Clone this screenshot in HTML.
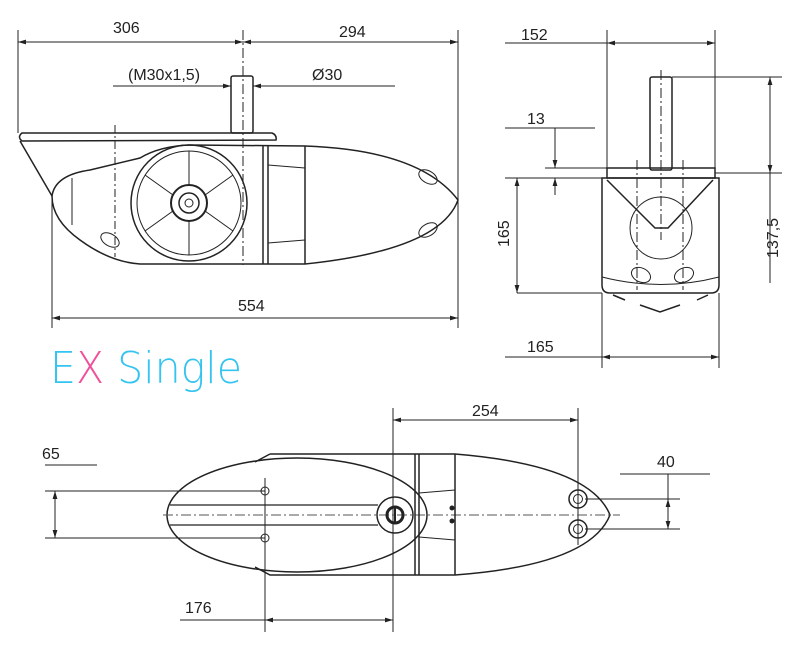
<!DOCTYPE html>
<html><head><meta charset="utf-8"><style>
html,body{margin:0;padding:0;background:#fff;width:800px;height:645px;overflow:hidden}
svg{display:block}
text{font-family:"Liberation Sans",sans-serif;font-size:16px;fill:#222}
</style></head><body>
<svg width="800" height="645" viewBox="0 0 800 645" xmlns="http://www.w3.org/2000/svg">
<defs>
<marker id="a" viewBox="0 0 10 10" refX="10" refY="5" markerWidth="8" markerHeight="8" orient="auto-start-reverse"><path d="M0,2 L10,5 L0,8 z" fill="#222"/></marker>
</defs>
<g stroke="#222" stroke-width="1" fill="none">
<line x1="18" y1="30" x2="18" y2="133"/>
<line x1="458" y1="30" x2="458" y2="328"/>
<line x1="18" y1="42" x2="243" y2="42" marker-start="url(#a)" marker-end="url(#a)"/>
<line x1="243" y1="42" x2="458" y2="42" marker-start="url(#a)" marker-end="url(#a)"/>
<line x1="243" y1="30" x2="243" y2="265" stroke-dasharray="10,3,2,3"/>
<line x1="113" y1="86" x2="221" y2="86"/>
<line x1="221" y1="86" x2="231" y2="86" marker-end="url(#a)"/>
<line x1="263" y1="86" x2="253" y2="86" marker-end="url(#a)"/>
<line x1="263" y1="86" x2="395" y2="86"/>
<line x1="52" y1="196" x2="52" y2="328"/>
<line x1="52" y1="318" x2="458" y2="318" marker-start="url(#a)" marker-end="url(#a)"/>
<rect x="231" y="76" width="22" height="57" rx="2" stroke-width="1.5"/>
<path d="M22,133 L272,133 Q277,135 276,140 L22,141 Q17,137 22,133 z" stroke-width="1.5"/>
<path d="M20,141 L52,196" stroke-width="1.5"/>
<path d="M52,196 Q55,175 90,170 L140,158 Q160,146 190,145 L305,146 Q420,150 458,200 Q440,250 305,264 L140,264 Q110,262 80,240 Q52,220 52,196 z" stroke-width="1.5"/>
<line x1="72" y1="178" x2="72" y2="225"/>
<line x1="115" y1="125" x2="115" y2="257" stroke-dasharray="8,3,2,3"/>
<line x1="263" y1="146" x2="263" y2="264" stroke-width="1.5"/>
<line x1="268" y1="146" x2="268" y2="264" stroke-width="1.5"/>
<line x1="305" y1="146" x2="305" y2="264" stroke-width="1.5"/>
<line x1="268" y1="165" x2="305" y2="168"/><line x1="268" y1="243" x2="305" y2="240"/>
<circle cx="189" cy="203" r="58" stroke-width="1.5"/>
<circle cx="189" cy="203" r="52"/>
<circle cx="189" cy="203" r="18" stroke-width="2"/>
<circle cx="189" cy="203" r="10" stroke-width="1.5"/>
<circle cx="189" cy="203" r="4"/>
<path d="M189,185 L189,151 M189,221 L189,255 M173,195 L145,175 M205,195 L233,175 M173,211 L145,231 M205,211 L233,231"/>
<ellipse cx="428" cy="177" rx="10" ry="6" transform="rotate(30 428 177)"/>
<ellipse cx="428" cy="230" rx="10" ry="6" transform="rotate(-30 428 230)"/>
<ellipse cx="110" cy="240" rx="10" ry="6" transform="rotate(30 110 240)"/>
<line x1="505" y1="43" x2="607" y2="43"/>
<line x1="607" y1="43" x2="715" y2="43" marker-start="url(#a)" marker-end="url(#a)"/>
<line x1="607" y1="30" x2="607" y2="168"/>
<line x1="715" y1="30" x2="715" y2="168"/>
<line x1="672" y1="77" x2="782" y2="77"/>
<line x1="715" y1="173" x2="782" y2="173"/>
<line x1="770" y1="77" x2="770" y2="173" marker-start="url(#a)" marker-end="url(#a)"/>
<line x1="770" y1="173" x2="770" y2="283"/>
<line x1="505" y1="128" x2="595" y2="128"/>
<line x1="555" y1="128" x2="555" y2="168" marker-end="url(#a)"/>
<line x1="555" y1="195" x2="555" y2="178" marker-end="url(#a)"/>
<line x1="545" y1="168" x2="607" y2="168"/>
<line x1="505" y1="178" x2="602" y2="178"/>
<line x1="517" y1="178" x2="517" y2="293" marker-start="url(#a)" marker-end="url(#a)"/>
<line x1="517" y1="293" x2="602" y2="293"/>
<line x1="602" y1="293" x2="602" y2="368"/>
<line x1="719" y1="293" x2="719" y2="368"/>
<line x1="505" y1="357" x2="602" y2="357"/>
<line x1="602" y1="357" x2="719" y2="357" marker-start="url(#a)" marker-end="url(#a)"/>
<rect x="650" y="77" width="22" height="93" rx="2" stroke-width="1.5"/>
<line x1="661" y1="70" x2="661" y2="240" stroke-dasharray="10,3,2,3"/>
<path d="M607,168 L715,168 L715,178 L607,178 z" stroke-width="1.5"/>
<path d="M602,178 L719,178 L719,285 Q719,293 711,293 L610,293 Q602,293 602,285 z" stroke-width="1.5"/>
<path d="M607,180 L655,228 L668,228 L713,180" stroke-width="1.5"/>
<circle cx="661" cy="228" r="31"/>
<line x1="637" y1="160" x2="637" y2="290" stroke-dasharray="10,3,2,3"/>
<line x1="683" y1="160" x2="683" y2="290" stroke-dasharray="10,3,2,3"/>
<ellipse cx="641" cy="275" rx="10" ry="7" transform="rotate(25 641 275)"/>
<ellipse cx="684" cy="275" rx="10" ry="7" transform="rotate(-25 684 275)"/>
<path d="M602,277 Q661,292 719,277"/>
<path d="M613,295 L625,300 M640,305 L660,312 L680,305 M697,300 L708,295" stroke-width="1.5"/>
<line x1="393" y1="420" x2="578" y2="420" marker-start="url(#a)" marker-end="url(#a)"/>
<line x1="393" y1="408" x2="393" y2="632"/>
<line x1="578" y1="408" x2="578" y2="545"/>
<line x1="45" y1="465" x2="97" y2="465"/>
<line x1="45" y1="491" x2="265" y2="491"/>
<line x1="45" y1="538" x2="265" y2="538"/>
<line x1="55" y1="491" x2="55" y2="538" marker-start="url(#a)" marker-end="url(#a)"/>
<line x1="620" y1="474" x2="710" y2="474"/>
<line x1="585" y1="499" x2="680" y2="499"/>
<line x1="585" y1="529" x2="680" y2="529"/>
<line x1="668" y1="474" x2="668" y2="499"/>
<line x1="668" y1="499" x2="668" y2="529" marker-start="url(#a)" marker-end="url(#a)"/>
<line x1="265" y1="478" x2="265" y2="632"/>
<line x1="180" y1="620" x2="265" y2="620"/>
<line x1="265" y1="620" x2="393" y2="620" marker-start="url(#a)" marker-end="url(#a)"/>
<path d="M270,454 L455,454 Q590,465 610,515 Q590,565 455,575 L270,575 L255,567 M270,454 L255,462" stroke-width="1.5"/>
<ellipse cx="297" cy="515" rx="130" ry="57" stroke-width="1.5"/>
<line x1="170" y1="505" x2="378" y2="505" stroke-width="1.3"/>
<line x1="170" y1="525" x2="378" y2="525" stroke-width="1.3"/>
<line x1="163" y1="515" x2="620" y2="515" stroke-dasharray="10,3,2,3" stroke="#555"/>
<line x1="415" y1="454" x2="415" y2="575" stroke-width="1.5"/>
<line x1="419" y1="454" x2="419" y2="575" stroke-width="1.5"/>
<line x1="455" y1="454" x2="455" y2="575" stroke-width="1.5"/>
<line x1="419" y1="493" x2="455" y2="490"/><line x1="419" y1="537" x2="455" y2="540"/>
<circle cx="395" cy="515" r="18" stroke-width="1.5"/>
<circle cx="395" cy="515" r="8" stroke-width="3"/>
<line x1="395" y1="507" x2="395" y2="523" stroke-width="2"/>
<circle cx="265" cy="491" r="4"/><circle cx="265" cy="538" r="4"/>
<circle cx="578" cy="499" r="9" stroke-width="1.5"/><circle cx="578" cy="499" r="4.5"/>
<circle cx="578" cy="529" r="9" stroke-width="1.5"/><circle cx="578" cy="529" r="4.5"/>
</g>
<circle cx="452" cy="508" r="2.5" fill="#222"/><circle cx="452" cy="521" r="2.5" fill="#222"/>
<text x="113" y="33">306</text>
<text x="339" y="37">294</text>
<text x="128" y="80">(M30x1,5)</text>
<text x="312" y="80">Ø30</text>
<text x="238" y="311">554</text>
<text x="521" y="40">152</text>
<text x="527" y="124">13</text>
<text x="527" y="352">165</text>
<text x="509" y="247" transform="rotate(-90 509 247)">165</text>
<text x="778" y="258" transform="rotate(-90 778 258)">137,5</text>
<text x="472" y="416">254</text>
<text x="42" y="459">65</text>
<text x="657" y="467">40</text>
<text x="185" y="613">176</text>
<text x="50" y="383" textLength="192" lengthAdjust="spacingAndGlyphs" style="font-family:'DejaVu Sans',sans-serif;font-weight:200;font-size:44px;fill:#35c4ef">E<tspan fill="#f0509a">X</tspan> Single</text>
</svg>
</body></html>
